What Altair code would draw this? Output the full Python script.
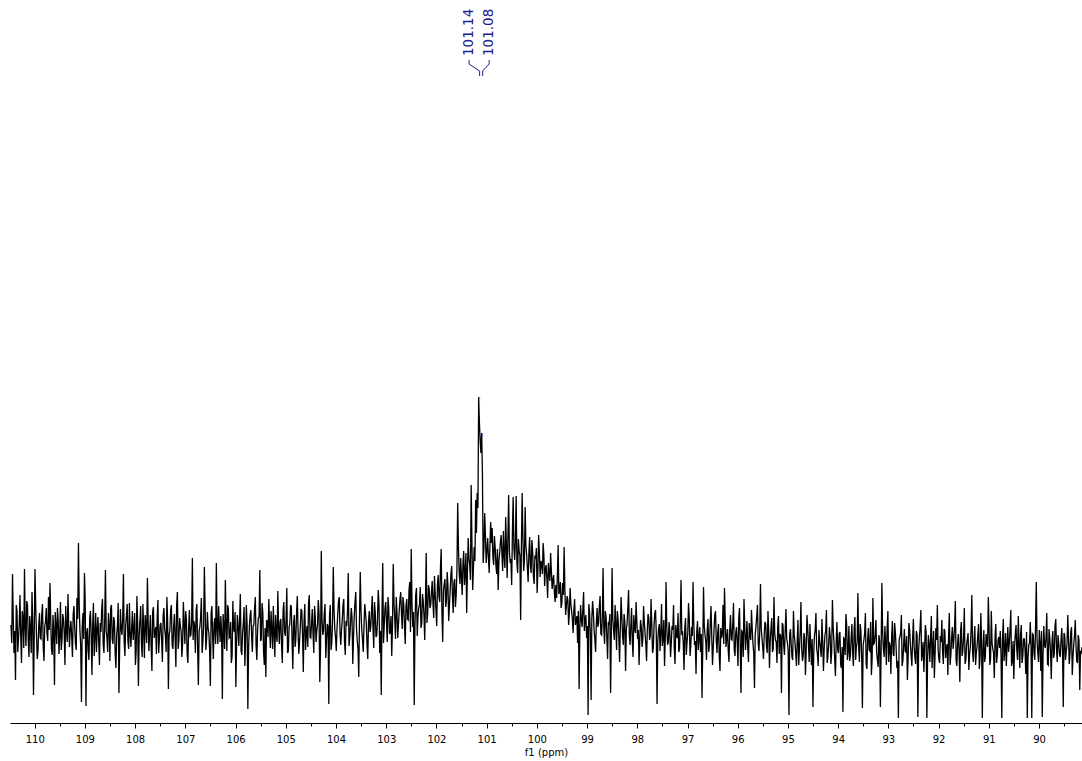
import altair as alt
import numpy as np
import pandas as pd

# ---- spectrum (intensity, arbitrary units) ----
PPM_START = 110.472
PPM_END = 89.144

# even samples
wing_left = [
    98, 149, 70, 43, 112, 85, 128, 60, 104, 154, 77, 118, 66, 95, 131, 28, 154, 88, 72, 110,
    84, 119, 62, 101, 90, 126, 140, 74, 108, 38, 97, 115, 69, 121, 83, 104, 58, 93, 129, 76,
    102, 66, 117, 80, 125, 180, 92, 21, 110, 150, 17, 95, 63, 112, 48, 120, 87, 71, 106, 58,
    91, 124, 70, 153, 85, 110, 62, 118, 79, 102, 55, 97, 30, 114, 88, 149, 67, 107, 82, 120,
    76, 112, 94, 58, 127, 37, 103, 81, 119, 65, 98, 145, 72, 108, 52, 116, 89, 69, 123, 84,
    100, 61, 115, 87, 126, 34, 92, 118, 74, 109, 56, 131, 83, 97, 66, 121, 79, 104, 60, 113,
    88, 165, 102, 70, 119, 38, 96, 125, 81, 156, 73, 111, 90, 37, 117, 64, 105, 160, 79, 98,
    107, 24, 95, 143, 72, 114, 86, 60, 122, 91, 36, 108, 77, 129, 68, 100, 57, 118, 14, 96,
    113, 71, 98, 126, 63, 105, 153, 84, 110, 58, 46, 101, 124, 75, 93, 117, 66, 88, 132, 79,
    104, 60, 121, 87, 135, 72, 99, 116, 54, 108, 83, 127, 69, 96, 112, 51, 119, 90, 76, 128,
]
rise_left = [
    85, 114, 70, 106, 92, 123, 41, 172, 88, 110, 65, 99, 19, 118, 80, 156, 94, 72, 109, 126,
    78, 103, 124, 68, 97, 150, 86, 115, 59, 107, 131, 82, 46, 151, 93, 71, 119, 100, 64, 112,
    96, 127, 75, 110, 88, 133, 70, 28, 160, 98, 121, 81, 115, 92, 67, 159, 104, 126, 85, 112,
    131, 94, 118, 79, 124, 103, 141, 174, 96, 18, 128, 87, 115, 136, 99, 122, 83, 170, 110, 134,
    118, 142, 105, 130, 97, 148, 121, 174, 81, 139, 116, 151, 102, 133, 157, 110, 144, 128, 220, 150,
]
peak_zone = [
    165, 128, 172, 150, 110, 185, 158, 238, 133, 176, 223, 230, 326, 282, 290, 160, 210, 160, 185, 150,
    201, 195, 158, 176, 149, 133, 170, 188, 152, 167, 206, 145, 228, 160, 138, 226, 163, 227, 150, 172,
    103, 230, 152, 216, 168, 141, 186, 150, 172, 139, 165, 130, 188, 146, 160, 180, 137, 158, 125, 149,
    170, 134, 148, 121, 125, 178, 132, 115, 140, 176, 108, 127, 98, 135, 112, 90, 124, 103, 80, 34,
]
fall_right = [
    118, 96, 131, 104, 85, 8, 110, 23, 122, 93, 71, 115, 100, 127, 88, 155, 79, 106, 64, 98,
    30, 155, 92, 118, 73, 104, 61, 126, 87, 109, 52, 99, 133, 78, 115, 66, 96, 121, 84, 58,
    103, 76, 117, 90, 62, 109, 83, 124, 70, 98, 113, 19, 94, 72, 119, 85, 57, 141, 79, 101,
    66, 97, 118, 59, 88, 110, 74, 143, 92, 53, 105, 81, 120, 67, 96, 141, 78, 49, 102, 86,
    71, 25, 136, 88, 63, 104, 79, 117, 58, 93, 112, 70, 99, 52, 85, 118, 135, 76, 94, 61,
    108, 83, 120, 67, 96, 57, 115, 30, 91, 124, 73, 102, 61, 88, 113, 79, 35, 97, 118, 72,
    139, 85, 64, 101, 77, 112, 55, 94, 71, 126, 83, 60, 107, 89, 30, 98, 68, 114, 80, 8,
]
wing_right = [
    94, 66, 112, 81, 57, 103, 74, 121, 62, 90, 48, 108, 79, 99, 58, 16, 87, 110, 69, 93,
    75, 104, 52, 88, 113, 67, 96, 59, 123, 82, 47, 101, 70, 91, 55, 11, 84, 109, 63, 97,
    68, 99, 57, 106, 77, 130, 61, 92, 15, 83, 110, 54, 95, 72, 48, 125, 80, 103, 63, 88,
    16, 140, 74, 97, 58, 112, 81, 49, 102, 67, 90, 55, 5, 86, 108, 62, 94, 71, 43, 100,
    79, 57, 104, 66, 92, 6, 85, 113, 70, 51, 98, 5, 88, 61, 107, 76, 45, 95, 118, 64,
    87, 103, 59, 92, 74, 48, 110, 68, 96, 83, 122, 57, 89, 41, 101, 72, 115, 63, 84, 53,
    76, 128, 61, 97, 70, 88, 54, 110, 5, 93, 66, 81, 126, 58, 112, 74, 45, 99, 68, 86,
    92, 5, 104, 71, 57, 96, 80, 113, 62, 44, 89, 73, 107, 55, 98, 67, 84, 49, 5, 78,
    101, 5, 88, 63, 141, 70, 93, 52, 6, 97, 75, 110, 58, 85, 44, 92, 69, 104, 61, 80,
    66, 95, 16, 87, 72, 108, 59, 91, 48, 79, 103, 62, 88, 33, 70,
]

# odd samples (in between the even ones)
wing_left_b = [
    80, 104, 92, 118, 71, 99, 86, 112, 75, 95, 122, 83, 107, 70, 101, 88, 116, 64, 97, 85,
    108, 76, 97, 115, 82, 93, 104, 68, 91, 111, 79, 102, 87, 73, 109, 90, 117, 81, 99, 94,
    86, 109, 95, 73, 104, 118, 77, 96, 84, 121, 90, 72, 105, 88, 98, 67, 110, 93, 82, 100,
    113, 79, 101, 92, 71, 97, 115, 84, 106, 69, 88, 120, 78, 94, 103, 81, 98, 119, 74, 90,
    95, 83, 110, 72, 99, 87, 117, 66, 93, 108, 80, 102, 91, 76, 111, 85, 96, 104, 70, 98,
    82, 107, 94, 71, 101, 89, 113, 78, 96, 85, 118, 74, 105, 92, 80, 99, 112, 69, 94, 87,
    101, 83, 97, 112, 76, 92, 106, 70, 98, 115, 84, 95, 73, 109, 88, 100, 79, 93, 117, 81,
    90, 109, 74, 98, 118, 85, 101, 67, 94, 111, 80, 96, 104, 72, 91, 116, 83, 99, 75, 107,
    88, 97, 115, 78, 93, 106, 82, 120, 71, 95, 103, 86, 99, 112, 74, 90, 108, 81, 97, 101,
    78, 112, 91, 103, 70, 96, 118, 84, 99, 76, 110, 93, 81, 114, 88, 102, 73, 97, 120, 86,
]
rise_left_b = [
    100, 89, 117, 81, 98, 110, 75, 103, 92, 119, 84, 97, 108, 73, 101, 114, 86, 95, 122, 90,
    93, 118, 81, 102, 112, 77, 99, 106, 86, 121, 94, 74, 105, 113, 84, 98, 110, 79, 101, 91,
    112, 95, 121, 86, 104, 118, 92, 109, 80, 115, 101, 126, 89, 107, 97, 120, 84, 111, 99, 124,
    109, 126, 97, 117, 104, 132, 91, 120, 111, 99, 135, 106, 118, 95, 129, 108, 121, 100, 138, 115,
    131, 120, 147, 112, 138, 126, 155, 109, 132, 144, 122, 137, 118, 149, 127, 141, 116, 153, 176, 139,
]
peak_zone_b = [
    147, 159, 138, 170, 152, 165, 143, 180, 155, 162, 190, 215, 300, 270, 250, 175, 188, 172, 166, 177,
    180, 166, 187, 158, 174, 162, 181, 169, 192, 155, 178, 186, 171, 164, 190, 175, 182, 160, 184, 168,
    176, 187, 162, 178, 155, 170, 158, 183, 147, 166, 175, 152, 170, 162, 149, 168, 154, 145, 160, 142,
    152, 143, 130, 138, 147, 129, 141, 120, 128, 134, 117, 123, 110, 119, 104, 113, 98, 107, 112, 95,
]
fall_right_b = [
    103, 114, 92, 108, 97, 119, 88, 105, 111, 84, 100, 96, 117, 89, 106, 93, 112, 85, 101, 109,
    91, 104, 83, 99, 112, 86, 95, 107, 78, 101, 94, 115, 88, 97, 81, 108, 90, 102, 93, 85,
    96, 84, 101, 79, 93, 105, 87, 98, 75, 110, 89, 82, 99, 91, 77, 103, 86, 95, 80, 92,
    80, 93, 74, 98, 85, 71, 101, 88, 79, 95, 68, 90, 104, 77, 87, 99, 82, 92, 73, 96,
    89, 77, 97, 82, 94, 71, 100, 86, 76, 108, 83, 91, 67, 95, 88, 79, 102, 85, 72, 93,
    84, 99, 73, 90, 81, 104, 78, 92, 66, 97, 86, 75, 100, 83, 94, 70, 89, 107, 79, 91,
    95, 76, 88, 99, 70, 92, 83, 105, 74, 90, 81, 96, 69, 87, 100, 78, 93, 84, 72, 89,
]
wing_right_b = [
    79, 63, 88, 70, 82, 58, 91, 75, 67, 85, 72, 96, 61, 78, 84, 69, 93, 74, 57, 81,
    66, 83, 74, 92, 60, 79, 87, 71, 95, 64, 80, 73, 89, 58, 76, 85, 68, 98, 72, 62,
    85, 70, 94, 63, 81, 76, 99, 67, 78, 90, 59, 84, 73, 101, 65, 79, 88, 71, 56, 82,
    74, 91, 66, 80, 95, 61, 77, 86, 69, 100, 75, 62, 83, 90, 57, 78, 72, 87, 64, 93,
    68, 84, 77, 59, 88, 73, 96, 62, 81, 75, 91, 66, 79, 86, 55, 92, 70, 83, 74, 60,
    81, 72, 94, 65, 79, 88, 58, 85, 74, 97, 63, 80, 71, 92, 67, 86, 59, 78, 90, 69,
    93, 71, 84, 58, 77, 99, 66, 82, 73, 61, 89, 76, 95, 64, 80, 70, 87, 60, 83, 75,
    67, 85, 62, 90, 78, 71, 94, 57, 82, 76, 98, 63, 79, 88, 60, 84, 73, 91, 66, 80,
    76, 89, 70, 95, 83, 61, 80, 92, 67, 78, 86, 59, 94, 72, 81, 65, 97, 74, 88, 69,
    82, 74, 90, 63, 79, 85, 70, 96, 66, 87, 77, 60, 83, 71, 76,
]

# ---- picked peaks ----
peak_ppm = [101.14, 101.08]
peak_labels = ["101.14", "101.08"]
peak_heights = [326, 290]

# ---- axis ticks ----
major_ticks = list(range(90, 111))
minor_ticks = [t + 0.5 for t in range(89, 110)]

# ---- layout / style constants ----
X_DOMAIN = [110.492, 89.144]
Y_DOMAIN = [0, 723]
LABEL_SHIFT = 0.04
LABEL_SPREAD = 0.2
NAVY = "#20208c"
FONT = "DejaVu Sans"

even = wing_left + rise_left + peak_zone + fall_right + wing_right
odd = wing_left_b + rise_left_b + peak_zone_b + fall_right_b + wing_right_b
intensity = [v for pair in zip(even, odd) for v in pair]

spec = pd.DataFrame({
    "ppm": np.linspace(PPM_START, PPM_END, len(intensity)),
    "h": intensity,
})

center = float(np.mean(peak_ppm)) + LABEL_SHIFT
peaks = pd.DataFrame({
    "ppm": peak_ppm,
    "label": peak_labels,
    "h": peak_heights,
    "lab": [center + LABEL_SPREAD, center - LABEL_SPREAD],
})

xscale = alt.Scale(domain=X_DOMAIN, nice=False, zero=False)
yscale = alt.Scale(domain=Y_DOMAIN, nice=False, zero=False)
xaxis = alt.Axis(
    values=sorted(major_ticks + minor_ticks),
    labelExpr="datum.value % 1 === 0 ? format(datum.value, 'd') : ''",
    tickSize={"condition": {"test": "datum.value % 1 === 0", "value": 5}, "value": 3},
    tickColor="black",
    tickWidth=1,
    domainColor="black",
    domainWidth=1,
    grid=False,
    labelOverlap=False,
    labelFlush=False,
    labelFont=FONT,
    labelFontSize=10,
    labelColor="black",
    labelPadding=6,
    title="f1 (ppm)",
    titleFont=FONT,
    titleFontSize=10,
    titleFontWeight="normal",
    titleColor="black",
    titlePadding=3,
)

line = alt.Chart(spec).mark_line(color="black", strokeWidth=1.3).encode(
    x=alt.X("ppm:Q", scale=xscale, axis=xaxis),
    y=alt.Y("h:Q", scale=yscale, axis=None),
)

tips = alt.Chart(peaks).transform_calculate(h2="datum.h - 4").mark_rule(
    color="#7b7bd6", strokeWidth=1
).encode(
    x=alt.X("ppm:Q", scale=xscale, axis=xaxis),
    y=alt.Y("h:Q", scale=yscale, axis=None),
    y2="h2:Q",
)

labels = alt.Chart(peaks).mark_text(
    angle=270, align="left", baseline="middle", font=FONT, fontSize=13.5, color=NAVY
).encode(
    x=alt.X("lab:Q", scale=xscale, axis=xaxis),
    y=alt.value(56),
    text="label:N",
)

stub = alt.Chart(peaks).mark_rule(color=NAVY, strokeWidth=1).encode(
    x=alt.X("lab:Q", scale=xscale, axis=xaxis),
    y=alt.value(60),
    y2=alt.value(64),
)
diag = alt.Chart(peaks).mark_rule(color=NAVY, strokeWidth=1).encode(
    x=alt.X("lab:Q", scale=xscale, axis=xaxis),
    x2="ppm:Q",
    y=alt.value(64),
    y2=alt.value(71),
)
vert = alt.Chart(peaks).mark_rule(color=NAVY, strokeWidth=1).encode(
    x=alt.X("ppm:Q", scale=xscale, axis=xaxis),
    y=alt.value(71),
    y2=alt.value(76),
)

chart = alt.layer(line, tips, stub, diag, vert, labels).properties(
    width=1072,
    height=723,
    autosize=alt.AutoSizeParams(type="none"),
    padding={"left": 10, "right": 0, "top": 0, "bottom": 38},
    background="white",
).configure_view(stroke=None)

chart.save("out.html", embed_options={"renderer": "svg", "actions": False})
